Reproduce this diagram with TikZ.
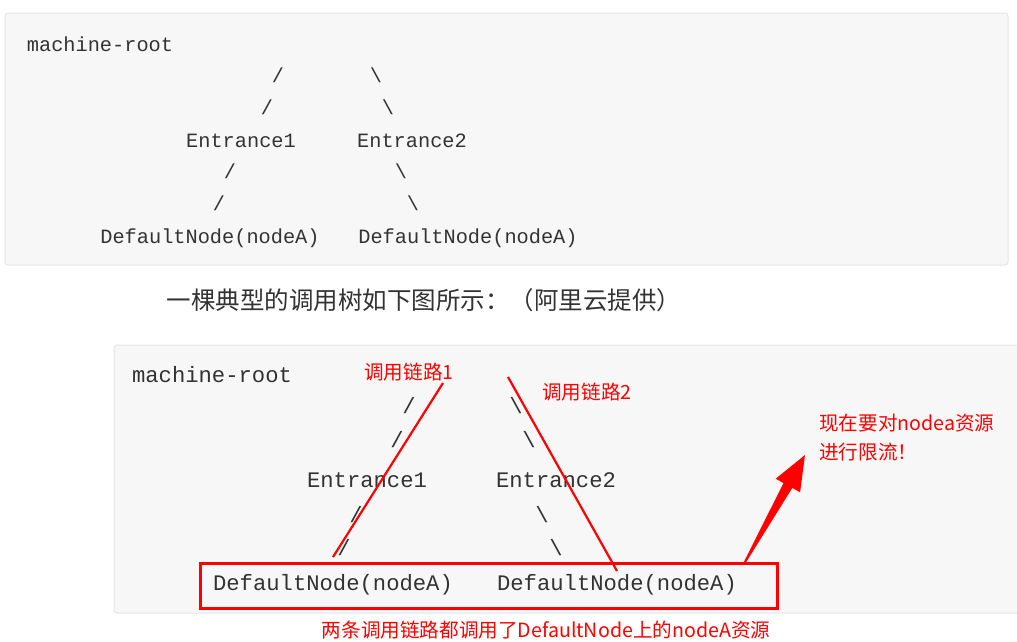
\documentclass[tikz,border=0pt]{standalone}
\usepackage{fontspec}
\setmonofont{Liberation Mono}
\newfontfamily\cjk{Noto Sans CJK SC}
\definecolor{panelbg}{HTML}{F7F7F7}
\definecolor{panelline}{HTML}{E6E6E6}
\definecolor{codetxt}{HTML}{333333}
\definecolor{annred}{HTML}{FF0000}
\begin{document}
\begin{tikzpicture}[x=1pt,y=-1pt,
  codeA/.style={inner sep=0pt,text=codetxt,font=\fontsize{20.3}{22}\ttfamily},
  codeB/.style={inner sep=0pt,text=codetxt,font=\fontsize{22.2}{24}\ttfamily},
  redlabel/.style={inner sep=0pt,text=annred,font=\fontsize{19.6}{24}\cjk,align=left},
  redline/.style={draw=annred,line width=2.2pt},
  panel/.style={fill=panelbg,draw=panelline,line width=1pt,rounded corners=3pt}]
\useasboundingbox (0,0) rectangle (1017,641);
\fill[white] (0,0) rectangle (1017,641);
% top panel
\draw[panel] (5,13) rectangle (1008,265);
\node[codeA] (r1) at (100,44) {machine-root};
\node[codeA] (s1a) at (278,75) {/};
\node[codeA] (s1b) at (376,75) {\textbackslash};
\node[codeA] (s2a) at (267,107) {/};
\node[codeA] (s2b) at (388,107) {\textbackslash};
\node[codeA] (e1) at (241,141) {Entrance1};
\node[codeA] (e2) at (412,141) {Entrance2};
\node[codeA] (s3a) at (230,171) {/};
\node[codeA] (s3b) at (401,171) {\textbackslash};
\node[codeA] (s4a) at (219,203) {/};
\node[codeA] (s4b) at (413,203) {\textbackslash};
\node[codeA] (d1) at (210,238) {DefaultNode(nodeA)};
\node[codeA] (d2) at (468,238) {DefaultNode(nodeA)};
% caption
\node[inner sep=0pt,text=codetxt,font=\fontsize{24.5}{26}\cjk] (cap) at (424,300) {一棵典型的调用树如下图所示：（阿里云提供）};
% bottom panel
\draw[panel] (114,345) rectangle (1030,613);
\node[codeB] (R1) at (212,375) {machine-root};
\node[codeB] (S1a) at (409,406) {/};
\node[codeB] (S1b) at (516,406) {\textbackslash};
\node[codeB] (S2a) at (397,440) {/};
\node[codeB] (S2b) at (529,440) {\textbackslash};
\node[codeB] (E1) at (367,480) {Entrance1};
\node[codeB] (E2) at (556,480) {Entrance2};
\node[codeB] (S3a) at (356,515) {/};
\node[codeB] (S3b) at (542,515) {\textbackslash};
\node[codeB] (S4a) at (344,548) {/};
\node[codeB] (S4b) at (556,548) {\textbackslash};
\node[codeB] (D1) at (333,585) {DefaultNode(nodeA)};
\node[codeB] (D2) at (617,585) {DefaultNode(nodeA)};
% red annotations
\node[draw=annred,line width=2.6pt,inner sep=0pt,minimum width=577pt,minimum height=45pt] (box) at (489,586) {};
\node[redlabel] (L1) at (409,372) {调用链路1};
\node[redlabel] (L2) at (587,392) {调用链路2};
\node[redlabel,anchor=west] (N1) at (819,423) {现在要对nodea资源};
\node[redlabel,anchor=west] (N2) at (819,452) {进行限流！};
\node[redlabel] (B1) at (546,630) {两条调用链路都调用了DefaultNode上的nodeA资源};
\coordinate (c1a) at (443,383);
\coordinate (c1b) at (333,557);
\coordinate (c2a) at (508,377);
\coordinate (c2b) at (617,571);
\draw[redline] (c1a) -- (c1b);
\draw[redline] (c2a) -- (c2b);
% big arrow
\fill[annred] (744.1,561.5) -- (783.5,483.1) -- (775.7,478.7) -- (805,455)
  -- (800.1,492.3) -- (792.3,487.9) -- (745.9,562.5) -- cycle;
\end{tikzpicture}
\end{document}
